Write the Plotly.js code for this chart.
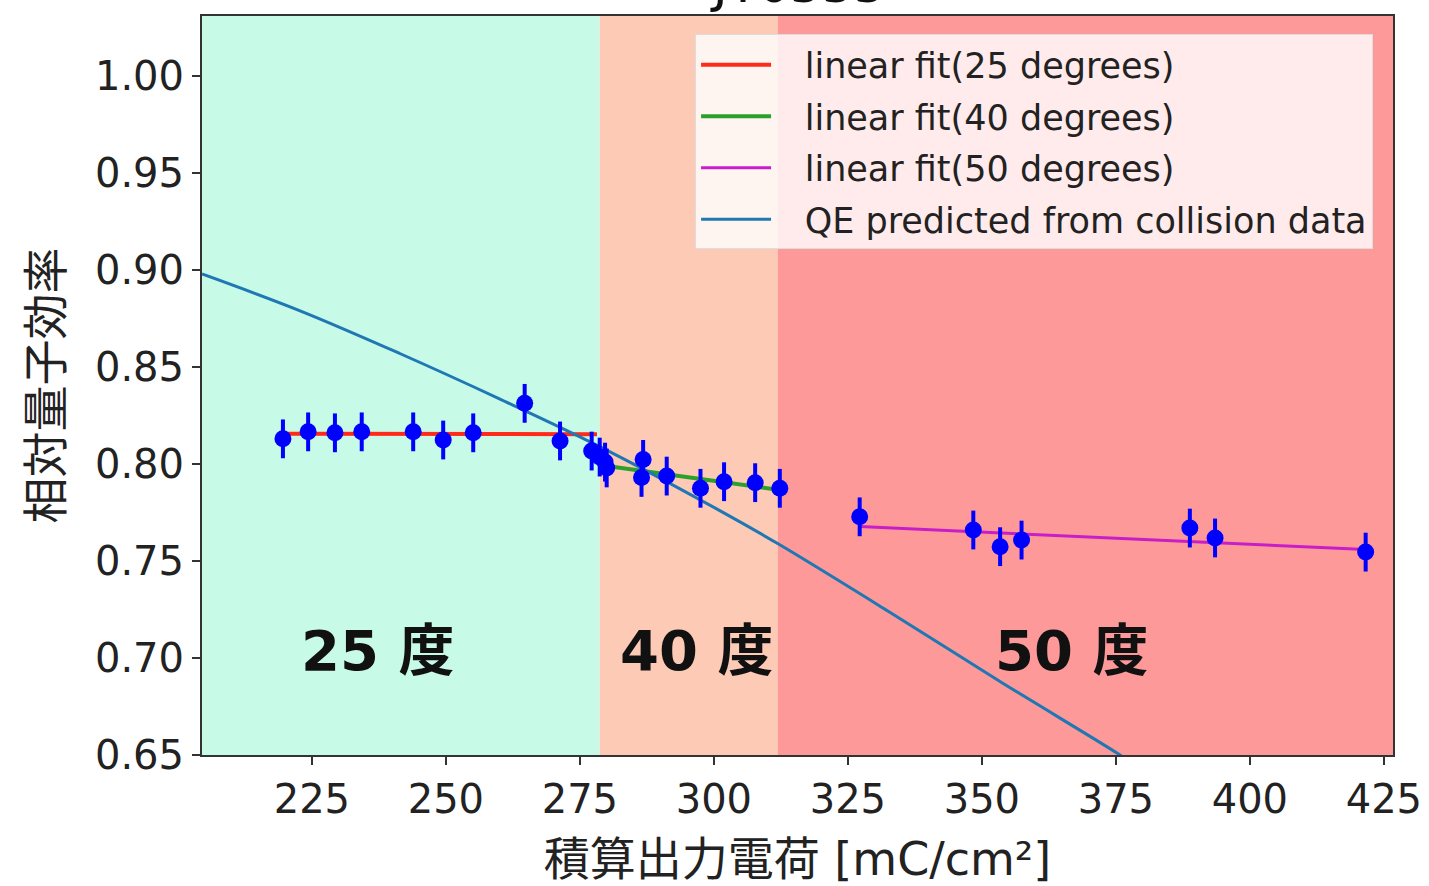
<!DOCTYPE html>
<html>
<head>
<meta charset="utf-8">
<script src="https://cdn.plot.ly/plotly-3.0.1.min.js"></script>
<style>html,body{margin:0;padding:0;background:#fff;}#chart{width:1429px;height:886px;}</style>
</head>
<body>
<div id="chart"></div>
<script>
// ---- data ----
const titleText = "JT0555";
const xTitle = "積算出力電荷 [mC/cm²]";
const yTitle = "相対量子効率";

// measured points (x, y), error ±0.01
const x25 = [219.6, 224.3, 229.3, 234.3, 243.9, 249.5, 255.1, 264.7, 271.3, 277.2];
const y25 = [0.813, 0.8166, 0.8161, 0.8166, 0.8166, 0.8124, 0.8161, 0.8313, 0.8119, 0.8067];
const x40 = [278.7, 279.7, 280.0, 286.8, 286.5, 291.2, 297.5, 301.9, 307.7, 312.3];
const y40 = [0.8036, 0.801, 0.798, 0.8024, 0.7931, 0.7938, 0.7875, 0.7909, 0.7904, 0.7875];
const x50 = [327.2, 348.4, 353.4, 357.4, 388.8, 393.5, 421.6];
const y50 = [0.7728, 0.766, 0.7574, 0.7608, 0.767, 0.7619, 0.7546];
const yErr = 0.01;

// linear fits (endpoints)
const fit25x = [219.6, 278.2];
const fit25y = [0.8156, 0.8154];
const fit40x = [278.7, 312.3];
const fit40y = [0.7995, 0.7866];
const fit50x = [327.2, 421.6];
const fit50y = [0.7678, 0.7559];

// QE predicted from collision data
const qeX = [204.5, 222.8, 241.4, 260.1, 278.7, 301.1, 311.9, 332.3, 353.9, 375.2, 377.0];
const qeY = [0.898, 0.879, 0.857, 0.8335, 0.809, 0.776, 0.759, 0.7245, 0.687, 0.651, 0.6475];

// region boundaries and labels
const regionEdges = [204.5, 278.7, 311.9, 426.7];
const regionColors = ["#c8fae8", "#fdcab5", "#fe9999"];
const regionLabels = ["25 度", "40 度", "50 度"];
const regionLabelX = [237.3, 296.8, 366.8];
const regionLabelY = 0.704;

const legendNames = ["linear fit(25 degrees)", "linear fit(40 degrees)", "linear fit(50 degrees)", "QE predicted from collision data"];

const xTicks = [225, 250, 275, 300, 325, 350, 375, 400, 425];
const yTicks = [0.65, 0.70, 0.75, 0.80, 0.85, 0.90, 0.95, 1.00];

// ---- build chart ----
const FONT = "DejaVu Sans, Noto Sans CJK JP, sans-serif";
const GAP = "\u2002\u00a0";

function pts(x, y) {
  return {
    x: x, y: y, type: "scatter", mode: "markers", showlegend: false,
    marker: {color: "#0000ff", size: 17},
    error_y: {type: "constant", value: yErr, color: "#0000ff", thickness: 4, width: 0},
    hoverinfo: "skip"
  };
}
function fit(x, y, color, name, g, w, shape) {
  return {x: x, y: y, type: "scatter", mode: "lines", name: GAP + name, legendgroup: g,
          line: {color: color, width: w, shape: shape || "linear", smoothing: 1.0}, hoverinfo: "skip"};
}

const traces = [
  fit(fit25x, fit25y, "#ff2a1a", legendNames[0], "a", 4),
  fit(fit40x, fit40y, "#2ca02c", legendNames[1], "b", 4),
  fit(fit50x, fit50y, "#c81ec8", legendNames[2], "c", 3),
  fit(qeX, qeY, "#1f77b4", legendNames[3], "d", 3, "spline"),
  pts(x25, y25), pts(x40, y40), pts(x50, y50)
];

const shapes = [];
for (let i = 0; i < regionColors.length; i++) {
  shapes.push({type: "rect", xref: "x", yref: "paper", x0: regionEdges[i], x1: regionEdges[i+1],
               y0: 0, y1: 1, fillcolor: regionColors[i], line: {width: 0}, layer: "below"});
}

const annotations = regionLabels.map((t, i) => ({
  text: "<b>" + t + "</b>", x: regionLabelX[i], y: regionLabelY, xref: "x", yref: "y",
  showarrow: false, font: {family: FONT, size: 56, color: "#111"}
}));
annotations.push({
  text: titleText, x: 0.5, y: 1, xref: "paper", yref: "paper", yanchor: "bottom",
  yshift: 0, showarrow: false, font: {family: FONT, size: 50, color: "#111"}
});

const axisCommon = {
  showgrid: false, zeroline: false, showline: true, mirror: true,
  linecolor: "#333", linewidth: 2, ticks: "outside", ticklen: 8, tickwidth: 2,
  tickcolor: "#333", tickfont: {family: FONT, size: 40, color: "#222"}
};

const layout = {
  width: 1429, height: 886,
  margin: {l: 202, r: 36, t: 16, b: 131},
  paper_bgcolor: "#ffffff", plot_bgcolor: "#ffffff",
  showlegend: true,
  legend: {
    x: 0.414, y: 0.975, xanchor: "left", yanchor: "top",
    bgcolor: "rgba(255,255,255,0.8)", bordercolor: "#dddddd", borderwidth: 1,
    font: {family: FONT, size: 35, color: "#222"},
    itemwidth: 70, traceorder: "grouped", tracegroupgap: 3
  },
  xaxis: Object.assign({}, axisCommon, {
    range: [regionEdges[0], regionEdges[3]], tickvals: xTicks, ticktext: xTicks.map(String),
    title: {text: xTitle, font: {family: FONT, size: 46, color: "#222"}, standoff: 22}
  }),
  yaxis: Object.assign({}, axisCommon, {
    range: [0.65, 1.031], tickvals: yTicks, ticktext: yTicks.map(v => v.toFixed(2)),
    title: {text: yTitle, font: {family: FONT, size: 46, color: "#222"}, standoff: 18}
  }),
  shapes: shapes,
  annotations: annotations
};

Plotly.newPlot("chart", traces, layout, {staticPlot: true, displayModeBar: false});
</script>
</body>
</html>
